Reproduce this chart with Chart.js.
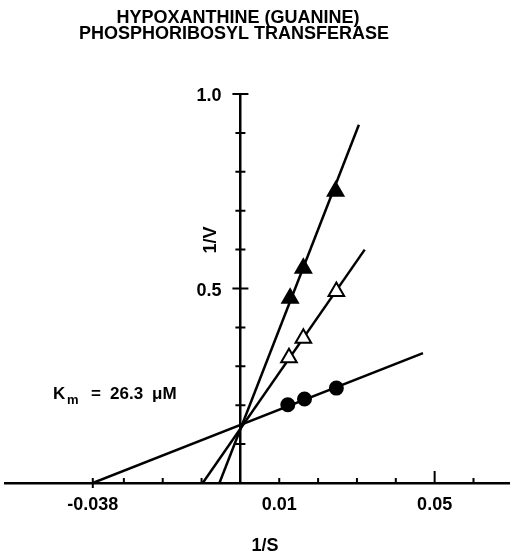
<!DOCTYPE html>
<html>
<head>
<meta charset="utf-8">
<script src="https://cdn.jsdelivr.net/npm/chart.js@4/dist/chart.umd.min.js"></script>
<style>
  body { margin: 0; background: #fff; }
</style>
</head>
<body>
<canvas id="myChart" width="510" height="554"></canvas>
<script>
// measured points (1/S, 1/V)
const circleX = [0.0122, 0.0165, 0.0247];
const circleY = [0.201, 0.216, 0.244];
const openTriX = [0.0125, 0.0162, 0.0247];
const openTriY = [0.322, 0.372, 0.492];
const fillTriX = [0.0128, 0.0162, 0.0245];
const fillTriY = [0.475, 0.552, 0.75];

// fitted lines, end points
const circleLineX = [-0.038, 0.047];
const circleLineY = [0, 0.334];
const openLineX = [-0.0097, 0.032];
const openLineY = [0, 0.6];
const fillLineX = [-0.0054, 0.0305];
const fillLineY = [0, 0.921];

// axis ticks
const xTickValues = [-0.038, -0.03, -0.02, -0.01, 0.01, 0.02, 0.03, 0.04, 0.05, 0.06];
const xLabelValues = [-0.038, 0.01, 0.05];
const yTickValues = [0.1, 0.2, 0.3, 0.4, 0.5, 0.6, 0.7, 0.8, 0.9, 1.0];
const yLabelValues = [0.5, 1.0];

const titleLines = ["HYPOXANTHINE (GUANINE)", "PHOSPHORIBOSYL TRANSFERASE"];

const fontName = "'Liberation Sans', Arial, sans-serif";

function toPoints(xs, ys) {
  return xs.map((x, i) => ({ x: x, y: ys[i] }));
}

function lineSet(xs, ys) {
  return {
    data: toPoints(xs, ys),
    showLine: true,
    borderColor: "#000",
    borderWidth: 2.5,
    pointRadius: 0,
    order: 2,
  };
}

function pointSet(xs, ys, style, fill, r) {
  return {
    data: toPoints(xs, ys),
    showLine: false,
    pointStyle: style,
    pointRadius: r,
    pointBackgroundColor: fill,
    pointBorderColor: "#000",
    pointBorderWidth: 2,
    order: 1,
  };
}

// white page
const whiteBg = {
  id: "whiteBg",
  beforeDraw(chart) {
    const ctx = chart.ctx;
    ctx.save();
    ctx.fillStyle = "#fff";
    ctx.fillRect(0, 0, chart.width, chart.height);
    ctx.restore();
  },
};

// little tick marks crossing the axes, and the 1/V labels
const axisMarks = {
  id: "axisMarks",
  afterDraw(chart) {
    const ctx = chart.ctx;
    const xs = chart.scales.x;
    const ys = chart.scales.y;
    const x0 = xs.getPixelForValue(0);
    const y0 = ys.getPixelForValue(0);
    ctx.save();
    ctx.strokeStyle = "#000";
    ctx.lineWidth = 2;
    ctx.beginPath();
    yTickValues.forEach((v) => {
      let py = ys.getPixelForValue(v);
      let half = yLabelValues.includes(v) ? 8 : 5;
      ctx.moveTo(x0 - half, py);
      ctx.lineTo(x0 + half, py);
    });
    xTickValues.forEach((v) => {
      let px = xs.getPixelForValue(v);
      let up = v === 0.05 ? 12 : 5;
      let down = v === -0.038 ? 5 : 0;
      ctx.moveTo(px, y0 + down);
      ctx.lineTo(px, y0 - up);
    });
    ctx.stroke();

    ctx.fillStyle = "#000";
    ctx.font = "bold 18px " + fontName;
    ctx.textAlign = "right";
    ctx.textBaseline = "alphabetic";
    yLabelValues.forEach((v) => {
      ctx.fillText(v.toFixed(1), x0 - 19, ys.getPixelForValue(v) + 7);
    });
    ctx.restore();
  },
};

// title, Km note and axis names
const labels = {
  id: "labels",
  afterDraw(chart) {
    const ctx = chart.ctx;
    ctx.save();
    ctx.fillStyle = "#000";
    ctx.textBaseline = "alphabetic";

    ctx.font = "bold 18px " + fontName;
    ctx.textAlign = "center";
    ctx.fillText(titleLines[0], 238, 23);
    ctx.fillText(titleLines[1], 234, 39);

    ctx.fillText("1/S", 265, 551);

    ctx.save();
    ctx.translate(216, 240);
    ctx.rotate(-Math.PI / 2);
    ctx.fillText("1/V", 0, 0);
    ctx.restore();

    ctx.textAlign = "left";
    ctx.font = "bold 17px " + fontName;
    ctx.fillText("K", 53, 399);
    ctx.font = "bold 13px " + fontName;
    ctx.fillText("m", 67, 404);
    ctx.font = "bold 17px " + fontName;
    ctx.fillText("=", 91, 399);
    ctx.fillText("26.3", 110, 399);
    ctx.fillText("\u03bcM", 152, 399);
    ctx.restore();
  },
};

const ctx = document.getElementById("myChart");

new Chart(ctx, {
  type: "scatter",
  data: {
    datasets: [
      lineSet(circleLineX, circleLineY),
      lineSet(openLineX, openLineY),
      lineSet(fillLineX, fillLineY),
      pointSet(circleX, circleY, "circle", "#000", 6.5),
      pointSet(openTriX, openTriY, "triangle", "#fff", 9),
      pointSet(fillTriX, fillTriY, "triangle", "#000", 9),
    ],
  },
  options: {
    responsive: false,
    devicePixelRatio: 1,
    animation: false,
    events: [],
    layout: { autoPadding: false, padding: { top: 94, left: 5, right: 0, bottom: 0 } },
    plugins: {
      legend: { display: false },
      tooltip: { enabled: false },
    },
    scales: {
      x: {
        type: "linear",
        position: "bottom",
        min: -0.0606,
        max: 0.0694,
        grid: { display: false },
        border: { display: true, color: "#000", width: 2.5 },
        afterBuildTicks: (scale) => {
          scale.ticks = xTickValues.map((v) => ({ value: v }));
        },
        afterFit: (scale) => {
          scale.height = 71;
        },
        ticks: {
          autoSkip: false,
          maxRotation: 0,
          padding: 3,
          color: "#000",
          font: { family: fontName, size: 18, weight: "bold" },
          callback: (v) => (xLabelValues.includes(v) ? String(v) : ""),
        },
      },
      y: {
        type: "linear",
        position: { x: 0 },
        min: 0,
        max: 1.0,
        grid: { display: false },
        border: { display: true, color: "#000", width: 2.5 },
        afterBuildTicks: (scale) => {
          scale.ticks = yTickValues.map((v) => ({ value: v }));
        },
        ticks: { display: false },
      },
    },
  },
  plugins: [whiteBg, axisMarks, labels],
});
</script>
</body>
</html>
